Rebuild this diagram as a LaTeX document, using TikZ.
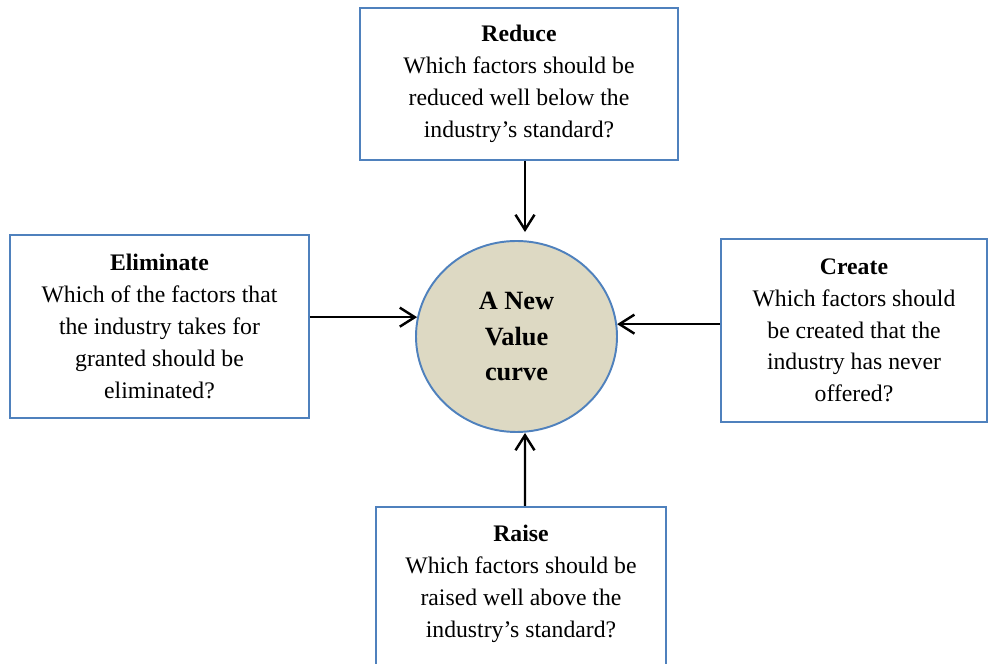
\documentclass[tikz,border=0pt]{standalone}
\usepackage{fontspec}
\setmainfont{Liberation Serif}
\usetikzlibrary{shapes.geometric,arrows.meta}
\definecolor{boxblue}{HTML}{4F81BD}
\definecolor{curvefill}{HTML}{DDD9C3}

\begin{document}
\begin{tikzpicture}[
    box/.style={draw=boxblue, line width=1.1pt, align=center, inner sep=0pt, font=\fontsize{13.5}{18.1}\selectfont},
    txt/.style={align=center, inner sep=0pt, font=\fontsize{13.5}{18.1}\selectfont},
    arr/.style={-{Straight Barb[length=0.3cm,width=0.38cm]}, line width=1.4pt}
  ]
  \useasboundingbox (0,0) rectangle (19.76,13.28);
  \node[box, minimum width=6.36cm, minimum height=3.04cm] (reduce) at (10.38,11.6) {\textbf{Reduce}\\Which factors should be\\reduced well below the\\industry’s standard?};
  \node[box, minimum width=5.98cm, minimum height=3.66cm] (elim) at (3.19,6.75) {\textbf{Eliminate}\\Which of the factors that\\the industry takes for\\granted should be\\eliminated?};
  \node[box, minimum width=5.32cm, minimum height=3.66cm] (create) at (17.08,6.67) {\textbf{Create}\\Which factors should\\be created that the\\industry has never\\offered?};
  \node[box, minimum width=5.8cm, minimum height=3.6cm, anchor=north] (raise) at (10.42,3.16) {};
  \node[txt] (raisetxt) at (10.42,1.6) {\textbf{Raise}\\Which factors should be\\raised well above the\\industry’s standard?};
  \node[ellipse, draw=boxblue, fill=curvefill, line width=1.1pt, minimum width=4.02cm, minimum height=3.82cm, inner sep=0pt, align=center, font=\fontsize{15}{20.1}\selectfont\bfseries] (value) at (10.33,6.55) {A New\\Value\\curve};
  \draw[arr] ([xshift=0.12cm]reduce.south) -- ([xshift=0.17cm,yshift=0.16cm]value.north);
  \draw[arr] (elim.east |- value.169.4) -- (value.169.4);
  \draw[arr] (create.west |- value.7.7) -- (value.7.7);
  \draw[arr] ([xshift=0.08cm]raise.north) -- ([xshift=0.17cm]value.south);
\end{tikzpicture}
\end{document}
